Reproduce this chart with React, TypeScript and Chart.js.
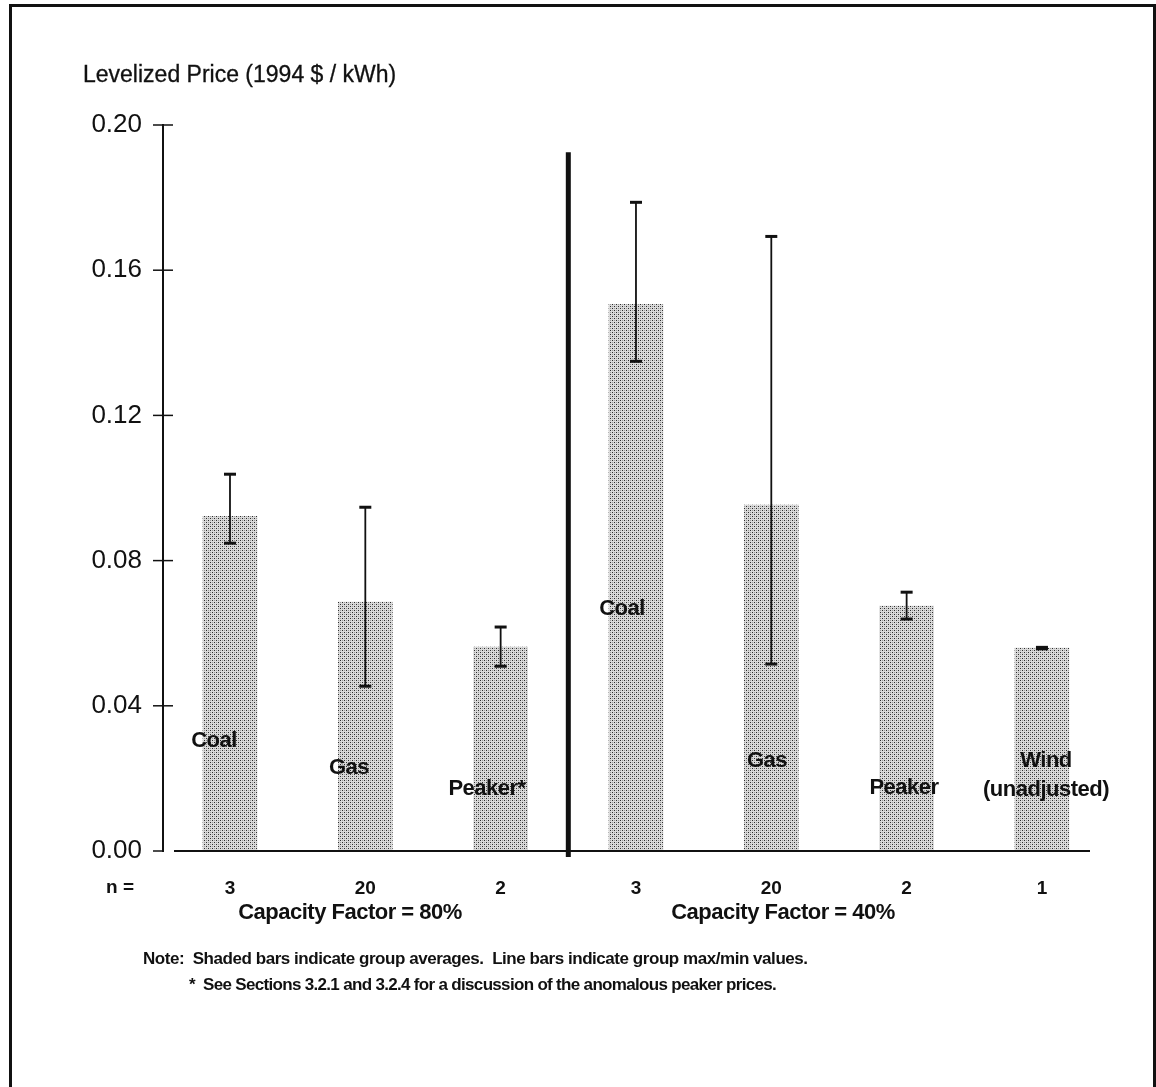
import React, { useEffect, useRef } from 'react';
import { Chart, registerables } from 'chart.js';

Chart.register(...registerables);

// ---- data ----
const categories = ['Coal', 'Gas', 'Peaker*', 'Coal', 'Gas', 'Peaker', 'Wind (unadjusted)'];
const groupAverages = [0.0922, 0.0686, 0.0562, 0.1506, 0.0953, 0.0675, 0.0559];
const groupMax = [0.1038, 0.0947, 0.0617, 0.1787, 0.1693, 0.0713, 0.0561];
const groupMin = [0.0848, 0.0454, 0.0509, 0.1349, 0.0515, 0.0639, 0.0557];
const sampleSizes = ['3', '20', '2', '3', '20', '2', '1'];
const yTickValues = [0, 0.04, 0.08, 0.12, 0.16, 0.2];
const dividerTopValue = 0.1925;

const FONT = "'Liberation Sans', Arial, Helvetica, sans-serif";

// text placement (layout only)
const barLabels = [
  { text: 'Coal', x: 214, y: 740 },
  { text: 'Gas', x: 349, y: 767 },
  { text: 'Peaker*', x: 487, y: 788 },
  { text: 'Coal', x: 622, y: 608 },
  { text: 'Gas', x: 767, y: 760 },
  { text: 'Peaker', x: 904, y: 787 },
  { text: 'Wind', x: 1046, y: 760 },
  { text: '(unadjusted)', x: 1046, y: 789 },
];

const overlayPlugin = {
  id: 'overlayPlugin',
  afterDatasetsDraw(chart: any) {
    const { ctx, chartArea, scales } = chart;
    const x = scales.x;
    const y = scales.y;
    const line = (x1: number, y1: number, x2: number, y2: number) => {
      ctx.beginPath();
      ctx.moveTo(x1, y1);
      ctx.lineTo(x2, y2);
      ctx.stroke();
    };
    ctx.save();
    ctx.strokeStyle = '#111';
    ctx.lineCap = 'butt';
    const y0 = y.getPixelForValue(0);
    // x axis line
    ctx.lineWidth = 2;
    line(chartArea.left + 11, y0, chartArea.right, y0);
    // y tick marks crossing the axis
    ctx.lineWidth = 1.5;
    yTickValues.forEach((v) => {
      const py = y.getPixelForValue(v);
      line(chartArea.left - 10, py, v === 0 ? chartArea.left : chartArea.left + 10, py);
    });
    // divider between the two capacity-factor groups
    ctx.lineWidth = 5;
    const dx = x.getPixelForValue(2.5);
    line(dx, y.getPixelForValue(dividerTopValue), dx, y0 + 6);
    // max/min line bars
    groupAverages.forEach((_, i) => {
      const px = x.getPixelForValue(i);
      const pTop = y.getPixelForValue(groupMax[i]);
      const pBot = y.getPixelForValue(groupMin[i]);
      ctx.lineWidth = 1.8;
      line(px, pTop, px, pBot);
      ctx.lineWidth = 3;
      line(px - 6, pTop, px + 6, pTop);
      line(px - 6, pBot, px + 6, pBot);
    });
    ctx.restore();
  },
};

function ChartCanvas() {
  const ref = useRef<HTMLCanvasElement | null>(null);
  useEffect(() => {
    const canvas = ref.current;
    if (!canvas) return;
    const ctx = canvas.getContext('2d')!;
    const pc = document.createElement('canvas');
    pc.width = 4;
    pc.height = 4;
    const p = pc.getContext('2d')!;
    p.fillStyle = '#dadada';
    p.fillRect(0, 0, 4, 4);
    p.fillStyle = '#2c2c2c';
    p.fillRect(0, 0, 1, 1);
    p.fillRect(2, 2, 1, 1);
    p.fillStyle = '#9a9a9a';
    p.fillRect(2, 0, 1, 1);
    p.fillRect(0, 2, 1, 1);
    const pattern = ctx.createPattern(pc, 'repeat');

    const chart = new Chart(ctx, {
      type: 'bar',
      data: {
        labels: categories,
        datasets: [
          {
            label: 'Group average',
            data: groupAverages.map((v, i) => ({ x: i, y: v })),
            backgroundColor: pattern as any,
            borderWidth: 0,
            barThickness: 54,
          },
        ],
      },
      options: {
        responsive: false,
        animation: false,
        devicePixelRatio: 1,
        layout: { padding: { left: 0, top: 125, right: 66, bottom: 176 } },
        plugins: { legend: { display: false }, tooltip: { enabled: false } },
        scales: {
          x: {
            type: 'linear',
            offset: false,
            min: -0.495,
            max: 6.355,
            grid: { display: false, drawTicks: false, offset: false },
            border: { display: false },
            afterBuildTicks: (scale: any) => {
              scale.ticks = sampleSizes.map((_, i) => ({ value: i }));
            },
            afterFit: (scale: any) => {
              scale.height = 60;
            },
            ticks: {
              autoSkip: false,
              maxRotation: 0,
              padding: 26,
              color: '#111',
              font: { family: FONT, size: 19, weight: 'bold' },
              callback: (_v: any, idx: number) => sampleSizes[idx],
            },
          },
          y: {
            min: 0,
            max: 0.2,
            grid: { display: false, drawTicks: false },
            border: { display: true, color: '#111', width: 2 },
            afterBuildTicks: (scale: any) => {
              scale.ticks = yTickValues.map((v) => ({ value: v }));
            },
            afterFit: (scale: any) => {
              scale.width = 163;
            },
            ticks: {
              padding: 21,
              color: '#111',
              font: { family: FONT, size: 26 },
              callback: (v: any) => Number(v).toFixed(2),
            },
          },
        },
      },
      plugins: [overlayPlugin],
    });
    return () => chart.destroy();
  }, []);
  return (
    <canvas
      ref={ref}
      width={1156}
      height={1087}
      style={{ position: 'absolute', left: 0, top: 0, width: 1156, height: 1087 }}
    />
  );
}

const textBase: React.CSSProperties = {
  position: 'absolute',
  fontFamily: FONT,
  color: '#111',
  whiteSpace: 'nowrap',
  lineHeight: 1,
};

function Centered({ x, y, size, bold, children, spacing }: any) {
  return (
    <div
      style={{
        ...textBase,
        left: x,
        top: y,
        transform: 'translate(-50%, -50%)',
        fontSize: size,
        fontWeight: bold ? 'bold' : 'normal',
        letterSpacing: spacing ?? 0,
      }}
    >
      {children}
    </div>
  );
}

export default function App() {
  return (
    <div
      style={{
        position: 'absolute',
        left: 0,
        top: 0,
        width: 1156,
        height: 1087,
        overflow: 'hidden',
        background: '#fff',
      }}
    >
      <div
        style={{
          position: 'absolute',
          left: 9,
          top: 4,
          width: 1147,
          height: 1200,
          boxSizing: 'border-box',
          border: '3px solid #111',
          borderBottom: 'none',
        }}
      />
      <ChartCanvas />
      <div style={{ ...textBase, left: 83, top: 63, fontSize: 23, WebkitTextStroke: '0.3px #111' }}>
        Levelized Price (1994 $ / kWh)
      </div>
      {barLabels.map((l, i) => (
        <Centered key={i} x={l.x} y={l.y} size={22} bold spacing={-0.5}>
          {l.text}
        </Centered>
      ))}
      <Centered x={120} y={886} size={19} bold>
        n =
      </Centered>
      <Centered x={350} y={912} size={22} bold spacing={-0.5}>
        Capacity Factor = 80%
      </Centered>
      <Centered x={783} y={912} size={22} bold spacing={-0.5}>
        Capacity Factor = 40%
      </Centered>
      <div style={{ ...textBase, left: 143, top: 950, fontSize: 17, fontWeight: 'bold', letterSpacing: -0.45 }}>
        Note:&nbsp; Shaded bars indicate group averages.&nbsp; Line bars indicate group max/min values.
      </div>
      <div style={{ ...textBase, left: 189, top: 976, fontSize: 17, fontWeight: 'bold', letterSpacing: -0.68 }}>
        *&nbsp; See Sections 3.2.1 and 3.2.4 for a discussion of the anomalous peaker prices.
      </div>
    </div>
  );
}
